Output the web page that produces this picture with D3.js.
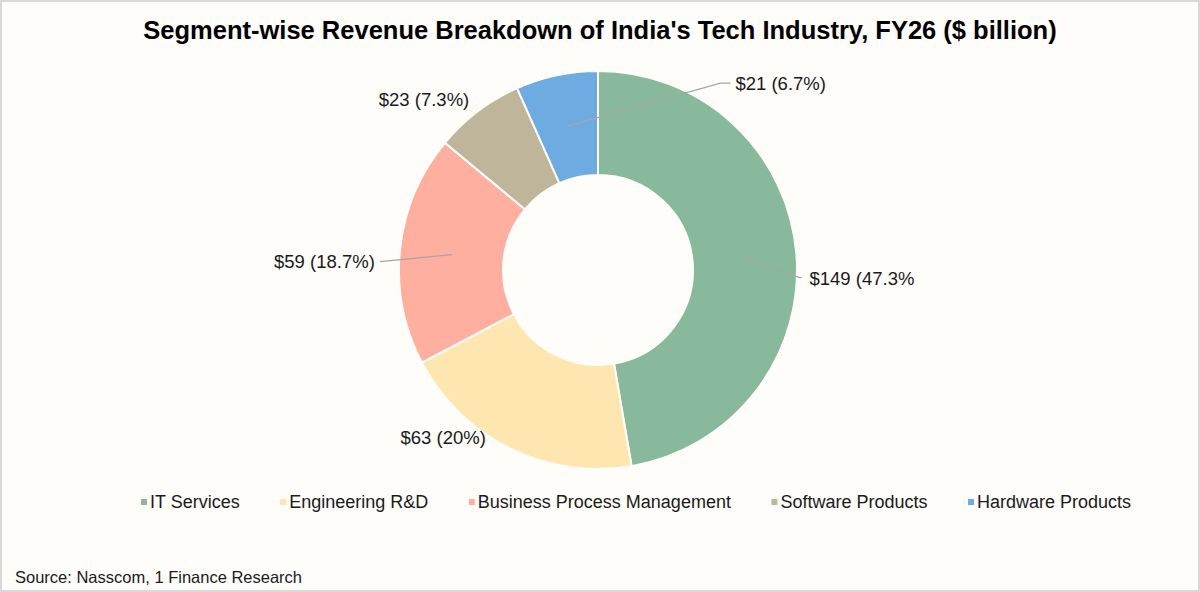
<!DOCTYPE html>
<html>
  <head>
    <meta charset="utf-8">
    <title>India Tech Industry FY26</title>
    <script src="https://cdn.jsdelivr.net/npm/d3@7"></script>
    <style>
      body
      {
        margin: 0px;
        padding: 0px;
        background: #ffffff;
        font-family: "Liberation Sans", Arial, sans-serif;
      }

      svg
      {
        display: block;
      }

      .slice
      {
        stroke: #fefdf9;
        stroke-width: 2px;
      }

      .leader
      {
        fill: none;
        stroke: #a6a6a6;
        stroke-width: 1.3px;
      }

      .label
      {
        font-size: 18.5px;
        fill: #1a1a1a;
      }

      .legendText
      {
        font-size: 18px;
        fill: #1a1a1a;
      }
    </style>
  </head>
  <body>
    <svg id="chart"></svg>

    <script>

      //--- Data
      var segments = ["IT Services", "Engineering R&D", "Business Process Management", "Software Products", "Hardware Products"];
      var revenue = [149, 63, 59, 23, 21];
      var labels = ["$149 (47.3%", "$63 (20%)", "$59 (18.7%)", "$23 (7.3%)", "$21 (6.7%)"];
      var colors = ["#88b99c", "#fee6b1", "#feaf9f", "#bfb59b", "#6eabe1"];

      var width = 1200;
      var height = 592;
      var cx = 598;
      var cy = 270;
      var outerR = 199;
      var innerR = 95;

      //--- Label placement relative to each slice centroid
      var labelLayout = [
        { dx: 65, dy: 27, anchor: "start", line: [[55, 20], [57, 20]] },
        { dx: -47, dy: 42, anchor: "end", line: null },
        { dx: -77, dy: 13, anchor: "end", line: [[-72, 7]] },
        { dx: -40, dy: -47, anchor: "end", line: null },
        { dx: 168, dy: -36, anchor: "start", line: [[153, -43], [163, -43]] }
      ];

      var svg = d3.select("#chart")
          .attr("width", width)
          .attr("height", height);

      //--- Frame
      svg.append("rect")
        .attr("x", 1).attr("y", 1)
        .attr("width", width - 2).attr("height", height - 2)
        .attr("fill", "#fefdf9")
        .attr("stroke", "#d9d9d9")
        .attr("stroke-width", 2);

      //--- Title
      svg.append("text")
        .attr("x", width / 2)
        .attr("y", 39)
        .attr("text-anchor", "middle")
        .style("font-size", "25.5px")
        .style("font-weight", "bold")
        .style("fill", "#000")
        .text("Segment-wise Revenue Breakdown of India's Tech Industry, FY26 ($ billion)");

      var pie = d3.pie().sort(null).value(d => d);
      var arcs = pie(revenue);
      var arc = d3.arc().innerRadius(innerR).outerRadius(outerR);

      var g = svg.append("g").attr("transform", "translate(" + cx + "," + cy + ")");

      g.selectAll("path")
        .data(arcs)
        .enter()
          .append("path")
            .classed("slice", true)
            .attr("d", arc)
            .attr("fill", (d, i) => colors[i]);

      //--- Leader lines
      g.selectAll("polyline")
        .data(arcs.filter((d, i) => labelLayout[i].line))
        .enter()
          .append("polyline")
            .classed("leader", true)
            .attr("points", function (d)
            {
              var c = arc.centroid(d);
              var pts = [c].concat(labelLayout[d.index].line.map(p => [c[0] + p[0], c[1] + p[1]]));
              return pts.map(p => p.join(",")).join(" ");
            });

      //--- Labels
      g.selectAll("text.label")
        .data(arcs)
        .enter()
          .append("text")
            .classed("label", true)
            .attr("x", d => arc.centroid(d)[0] + labelLayout[d.index].dx)
            .attr("y", d => arc.centroid(d)[1] + labelLayout[d.index].dy)
            .attr("text-anchor", d => labelLayout[d.index].anchor)
            .text(d => labels[d.index]);

      //--- Legend
      var legend = svg.append("g").attr("transform", "translate(141,502)");
      var lx = 0;
      segments.forEach(function (s, i)
      {
        var item = legend.append("g").attr("transform", "translate(" + lx + ",0)");
        item.append("rect")
          .attr("x", 0).attr("y", -3)
          .attr("width", 6).attr("height", 6)
          .attr("fill", colors[i]);
        var t = item.append("text")
          .classed("legendText", true)
          .attr("x", 9)
          .attr("y", 6)
          .text(s);
        lx += 9 + t.node().getComputedTextLength() + 40.5;
      });

      //--- Source
      svg.append("text")
        .attr("x", 15)
        .attr("y", 583)
        .style("font-size", "16.5px")
        .style("fill", "#1a1a1a")
        .text("Source: Nasscom, 1 Finance Research");

    </script>
  </body>
</html>
